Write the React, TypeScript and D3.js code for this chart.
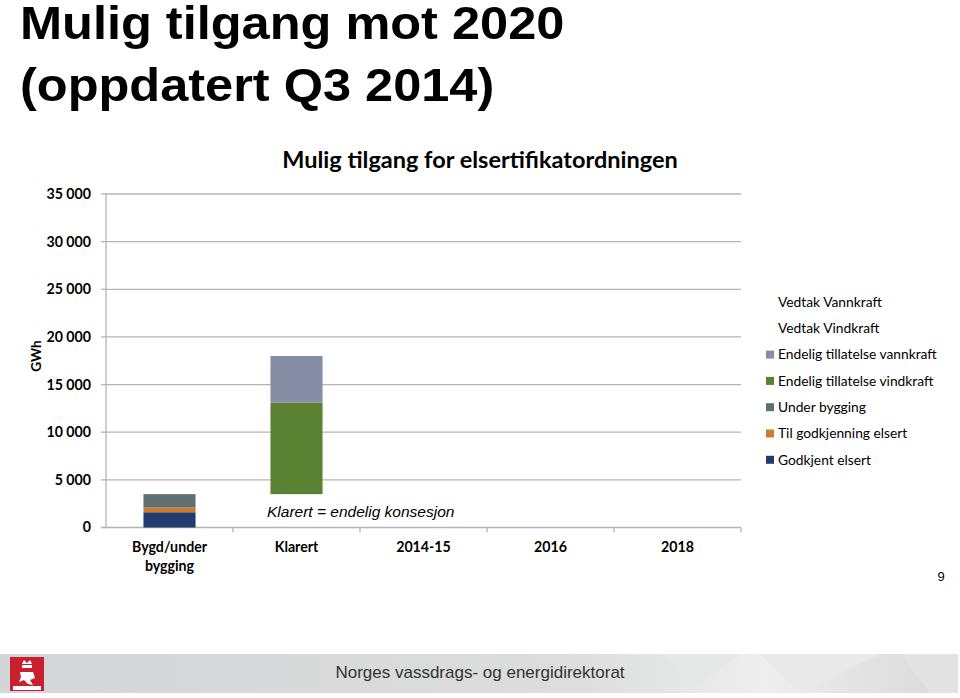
import React from "react";
import * as d3 from "d3";

const categories = ["Bygd/under bygging", "Klarert", "2014-15", "2016", "2018"];
const seriesNames = [
  "Godkjent elsert",
  "Til godkjenning elsert",
  "Under bygging",
  "Endelig tillatelse vindkraft",
  "Endelig tillatelse vannkraft",
  "Vedtak Vindkraft",
  "Vedtak Vannkraft",
];
const offsetBase = [0, 3500, 0, 0, 0];
const godkjent = [1600, 0, 0, 0, 0];
const tilGodkjenning = [500, 0, 0, 0, 0];
const underBygging = [1400, 0, 0, 0, 0];
const endeligVind = [0, 9600, 0, 0, 0];
const endeligVann = [0, 4900, 0, 0, 0];
const vedtakVind = [0, 0, 0, 0, 0];
const vedtakVann = [0, 0, 0, 0, 0];
const yTicks = [0, 5000, 10000, 15000, 20000, 25000, 30000, 35000];

const colors: Record<string, string> = {
  "Godkjent elsert": "#1f3b6f",
  "Til godkjenning elsert": "#cc7a2c",
  "Under bygging": "#607070",
  "Endelig tillatelse vindkraft": "#5b8233",
  "Endelig tillatelse vannkraft": "#888da6",
  "Vedtak Vindkraft": "none",
  "Vedtak Vannkraft": "none",
};

const W = 960;
const H = 698;
const left = 106;
const right = 741;
const top = 194;
const bottom = 527.5;

export default function App() {
  const seriesValues = [godkjent, tilGodkjenning, underBygging, endeligVind, endeligVann, vedtakVind, vedtakVann];
  const rows = categories.map((c, i) => {
    const r: any = { cat: c, base: offsetBase[i] };
    seriesNames.forEach((n, k) => (r[n] = seriesValues[k][i]));
    return r;
  });
  const stacked = d3.stack<any>().keys(["base", ...seriesNames])(rows);
  const x = d3.scaleBand().domain(categories).range([left, right]).paddingInner(0.59).paddingOuter(0.295);
  const xb = d3.scaleBand().domain(categories).range([left, right]);
  const y = d3.scaleLinear().domain([0, 35000]).range([bottom, top]);
  const fmt = (v: number) => d3.format(",")(v).replace(/,/g, " ");
  const legendItems = [...seriesNames].reverse();
  const fontC = "Lato, 'Open Sans', sans-serif";

  return (
    <svg width={W} height={H} style={{ position: "absolute", left: 0, top: 0, background: "#fff" }}>
      <defs>
        <linearGradient id="foot" x1="0" x2="1" y1="0" y2="0">
          <stop offset="0" stopColor="#d4d5d6" />
          <stop offset="0.6" stopColor="#dcdddd" />
          <stop offset="0.8" stopColor="#eeeeee" />
          <stop offset="1" stopColor="#d8d8d8" />
        </linearGradient>
      </defs>
      <g transform="translate(20,0) scale(1.098,1)">
        <text x={0} y={39} fontFamily="Liberation Sans, Arial, sans-serif" fontWeight="bold" fontSize={46} fill="#000">
          Mulig tilgang mot 2020
        </text>
        <text x={0} y={101} fontFamily="Liberation Sans, Arial, sans-serif" fontWeight="bold" fontSize={46} fill="#000">
          (oppdatert Q3 2014)
        </text>
      </g>
      <text x={480} y={168} textAnchor="middle" fontFamily={fontC} fontWeight="bold" fontSize={23.5} fill="#000">
        Mulig tilgang for elsertifikatordningen
      </text>

      {yTicks.map((t) => (
        <g key={t}>
          {t > 0 && <line x1={left} x2={right} y1={y(t)} y2={y(t)} stroke="#b4b4b4" strokeWidth={1.3} />}
          <line x1={left - 5} x2={left} y1={y(t)} y2={y(t)} stroke="#b4b4b4" strokeWidth={1.3} />
          <text x={91} y={y(t)} dy="0.35em" textAnchor="end" fontFamily={fontC} fontWeight="bold" fontSize={14.2} fill="#000">
            {fmt(t)}
          </text>
        </g>
      ))}
      <line x1={left} x2={left} y1={top} y2={bottom} stroke="#b4b4b4" strokeWidth={1.3} />
      <line x1={left - 5} x2={right} y1={bottom} y2={bottom} stroke="#b4b4b4" strokeWidth={1.3} />
      {categories.map((c) => (
        <line key={c} x1={xb(c)! + xb.bandwidth()} x2={xb(c)! + xb.bandwidth()} y1={bottom} y2={bottom + 5} stroke="#b4b4b4" strokeWidth={1.3} />
      ))}
      <text transform={`translate(41,356) rotate(-90)`} textAnchor="middle" fontFamily={fontC} fontWeight="bold" fontSize={13.5} fill="#000">
        GWh
      </text>

      {stacked.map((s) =>
        s.key === "base" ? null : (
          <g key={s.key} fill={colors[s.key]}>
            {s.map((d, i) =>
              d[1] - d[0] > 0 ? (
                <rect key={i} x={x(categories[i])} width={x.bandwidth()} y={y(d[1])} height={y(d[0]) - y(d[1])} />
              ) : null
            )}
          </g>
        )
      )}

      {categories.map((c) => {
        const parts = c === "Bygd/under bygging" ? ["Bygd/under", "bygging"] : [c];
        return (
          <text key={c} x={xb(c)! + xb.bandwidth() / 2} y={552} textAnchor="middle" fontFamily={fontC} fontWeight="bold" fontSize={14.2} fill="#000">
            {parts.map((p, k) => (
              <tspan key={k} x={xb(c)! + xb.bandwidth() / 2} dy={k === 0 ? 0 : 19}>
                {p}
              </tspan>
            ))}
          </text>
        );
      })}

      <text x={267} y={517} fontFamily="Liberation Sans, Arial, sans-serif" fontStyle="italic" fontSize={15.5} fill="#000">
        Klarert = endelig konsesjon
      </text>

      {legendItems.map((n, k) => {
        const cy = 302 + k * 26.3;
        return (
          <g key={n}>
            {colors[n] !== "none" && <rect x={766} y={cy - 4} width={8} height={8} fill={colors[n]} />}
            <text x={778} y={cy} dy="0.35em" fontFamily={fontC} fontSize={13.8} fill="#000">
              {n}
            </text>
          </g>
        );
      })}

      <text x={941} y={581} textAnchor="middle" fontFamily="Liberation Sans, Arial, sans-serif" fontSize={13} fill="#000">
        9
      </text>

      <rect x={0} y={654} width={958} height={39} fill="url(#foot)" />
      <path d="M660,654 L700,684 L740,654 Z" fill="#e6e7e7" />
      <path d="M760,654 L800,693 L880,654 Z" fill="#e9e9e9" />
      <path d="M900,654 L958,654 L958,693 L930,693 Z" fill="#e2e2e2" />
      <rect x={10} y={657} width={34} height={34} fill="#c8202f" />
      <path d="M22,664 L24,660 L27,663 L30,660 L32,664 Z M22,665 L32,665 L32,668 L22,668 Z" fill="#fff" />
      <path d="M20,672 L33,672 L35,678 L30,680 L33,685 L28,684 L24,680 L19,682 L21,677 Z" fill="#fff" />
      <rect x={13} y={686} width={28} height={4} fill="#fff" />
      <text x={480} y={678} textAnchor="middle" fontFamily="Liberation Sans, Arial, sans-serif" fontSize={17} fill="#333">
        Norges vassdrags- og energidirektorat
      </text>
    </svg>
  );
}
